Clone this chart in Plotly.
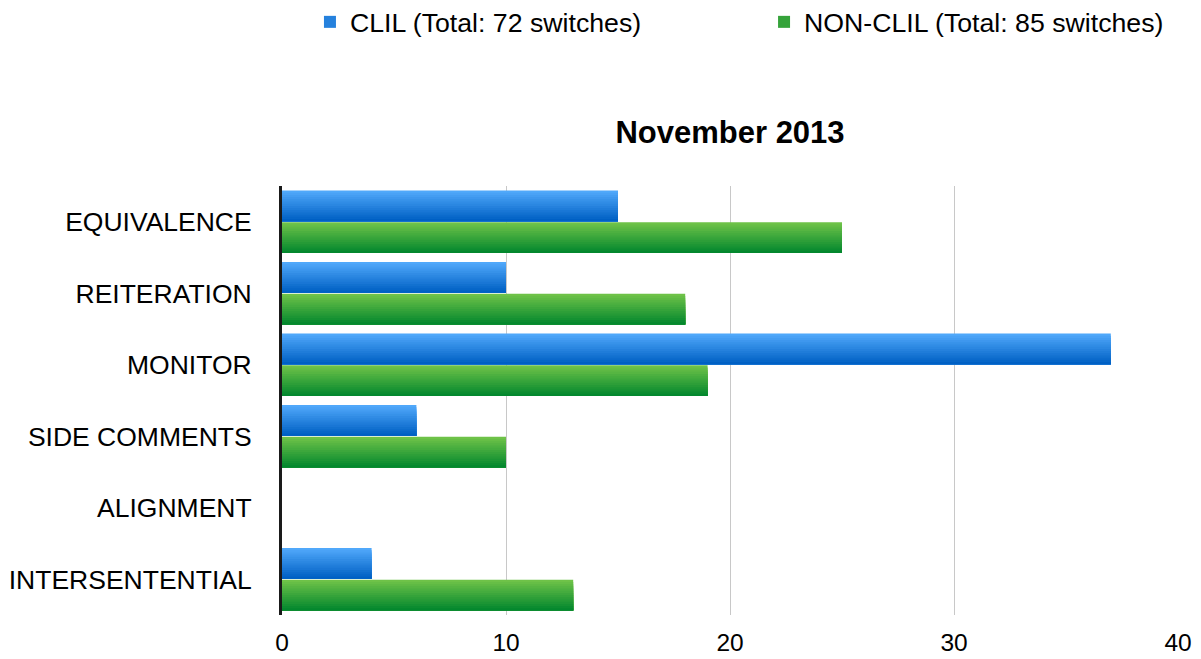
import plotly.graph_objects as go

categories = ["EQUIVALENCE", "REITERATION", "MONITOR", "SIDE COMMENTS", "ALIGNMENT", "INTERSENTENTIAL"]
clil_values = [15, 10, 37, 6, 0, 4]
nonclil_values = [25, 18, 19, 10, 0, 13]
series_names = ["CLIL (Total: 72 switches)", "NON-CLIL (Total: 85 switches)"]
x_ticks = [0, 10, 20, 30, 40]
title_text = "November 2013"

def lerp(c1, c2, t):
    return "rgb(%d,%d,%d)" % tuple(round(a + (b - a) * t) for a, b in zip(c1, c2))

blue_top, blue_bot = (80, 168, 250), (0, 96, 196)
green_top, green_bot = (110, 194, 72), (4, 136, 46)

fig = go.Figure()
N = 14
W = 0.43
specs = [
    (clil_values, series_names[0], blue_top, blue_bot, -0.437, "legend"),
    (nonclil_values, series_names[1], green_top, green_bot, 0.007, "legend2"),
]
for vals, name, ctop, cbot, start, leg in specs:
    h = W / N
    for i in range(N):
        fig.add_trace(go.Bar(
            y=categories, x=vals, orientation="h",
            offset=start + i * h, width=W - i * h,
            marker=dict(color=lerp(ctop, cbot, i / (N - 1)), line=dict(width=0)),
            name=name, legendgroup=name, showlegend=(i == N // 2), legend=leg,
            hoverinfo="skip" if i else None,
        ))

leg_common = dict(orientation="h", xanchor="left", y=1 - 22 / 659, yref="container",
                  yanchor="middle", font=dict(size=26.7), bgcolor="rgba(0,0,0,0)")
fig.update_layout(
    width=1201, height=659,
    paper_bgcolor="white", plot_bgcolor="white",
    barmode="overlay",
    margin=dict(l=282, r=23, t=186, b=44),
    font=dict(family="Liberation Sans, Arial, Helvetica, sans-serif", size=26.5, color="black"),
    title=dict(text="<b>%s</b>" % title_text, x=0.5, xref="paper", y=1 - 132 / 659,
               yanchor="middle", xanchor="center", font=dict(size=31)),
    legend=dict(x=0.0312, **leg_common),
    legend2=dict(x=0.538, **leg_common),
    xaxis=dict(range=[0, 40], tickvals=x_ticks, showgrid=True, gridcolor="#c8c8c8",
               gridwidth=1, zeroline=False, showline=False, ticks="", fixedrange=True,
               tickfont=dict(size=24.5), automargin=False, ticklabelstandoff=10),
    yaxis=dict(autorange="reversed", showgrid=False, showline=True, linecolor="#1a1a1a",
               linewidth=3, ticks="", ticklabelstandoff=22, zeroline=False, automargin=False),
)
fig.write_html("out.html", post_script="document.body.style.margin='0';",
               config={"displayModeBar": False})
